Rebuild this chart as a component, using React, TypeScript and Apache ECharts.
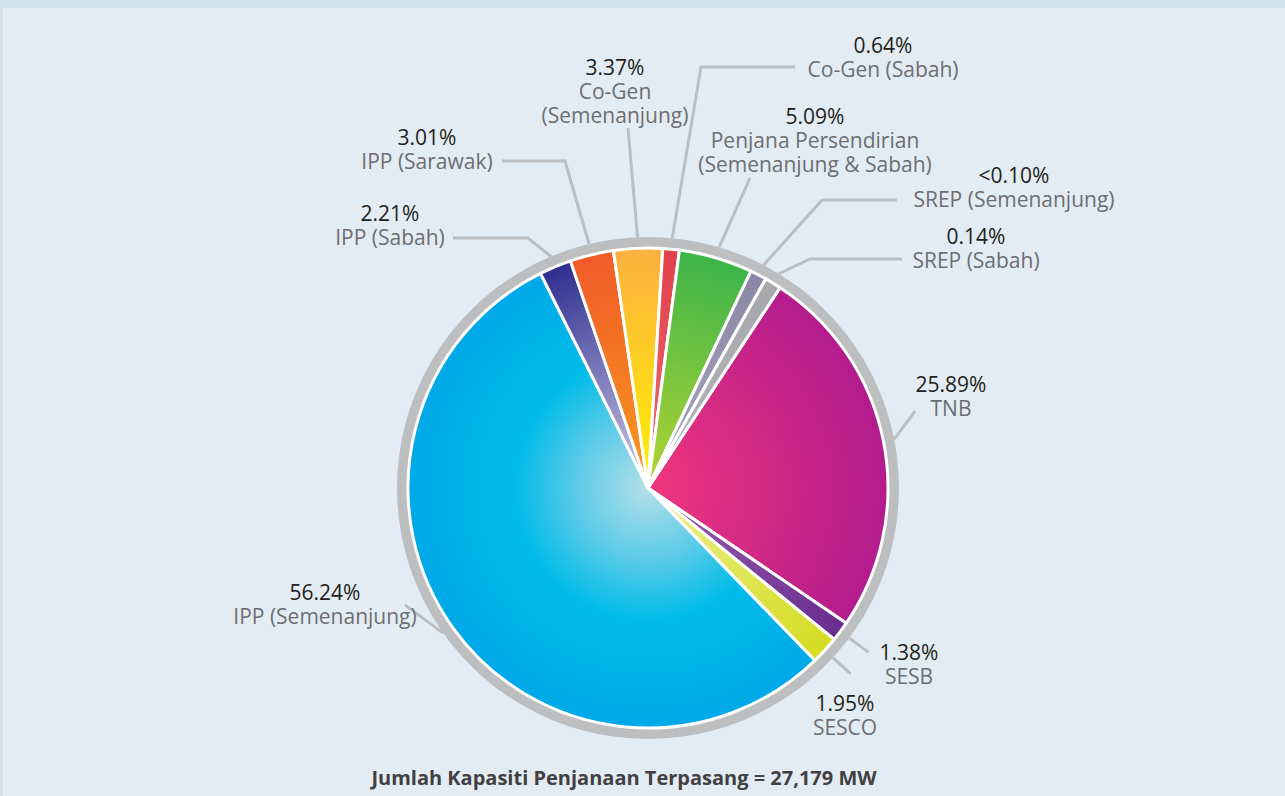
import React, { useEffect, useRef } from 'react';
import * as echarts from 'echarts';

// Installed generation capacity by producer (%)
const categories = [
  'TNB',
  'SESB',
  'SESCO',
  'IPP (Semenanjung)',
  'IPP (Sabah)',
  'IPP (Sarawak)',
  'Co-Gen (Semenanjung)',
  'Co-Gen (Sabah)',
  'Penjana Persendirian (Semenanjung & Sabah)',
  'SREP (Semenanjung)',
  'SREP (Sabah)',
];
const labelNames = [
  'TNB',
  'SESB',
  'SESCO',
  'IPP (Semenanjung)',
  'IPP (Sabah)',
  'IPP (Sarawak)',
  'Co-Gen\n(Semenanjung)',
  'Co-Gen (Sabah)',
  'Penjana Persendirian\n(Semenanjung & Sabah)',
  'SREP (Semenanjung)',
  'SREP (Sabah)',
];
const shares = [25.89, 1.38, 1.95, 56.24, 2.21, 3.01, 3.37, 0.64, 5.09, 0.08, 0.14];
const shareLabels = ['25.89%', '1.38%', '1.95%', '56.24%', '2.21%', '3.01%', '3.37%', '0.64%', '5.09%', '<0.10%', '0.14%'];
const totalLabel = 'Jumlah Kapasiti Penjanaan Terpasang = 27,179 MW';

// Colour stops for each slice, from the pie centre outwards
const sliceStops: [number, string][][] = [
  [[0, '#f0367c'], [1, '#b31c8e']],
  [[0, '#9a62ad'], [1, '#692d8f']],
  [[0, '#eef08c'], [1, '#d4dc22']],
  [[0, '#b4e0e8'], [0.3, '#5ccbe8'], [0.55, '#00bce8'], [1, '#00a8e7']],
  [[0, '#cfcbe8'], [1, '#2e2f8f']],
  [[0, '#f89a1c'], [1, '#f15a29']],
  [[0, '#fff200'], [1, '#fbb040']],
  [[0, '#ee6c72'], [1, '#e2404a']],
  [[0, '#b6d433'], [1, '#3cb54a']],
  [[0, '#a9a7bf'], [1, '#8a88a4']],
  [[0, '#b3b5b8'], [1, '#a6a8ab']],
];

// Layout
const CX = 648;
const CY = 488;
const PIE_R = 240;
const RING_R = 251;
const FONT = "'Open Sans', sans-serif";

type Spot = { x: number; y: number; line?: number[][]; stub?: number };
const labelSpots: Spot[] = [
  { x: 951, y: 372, line: [[915, 411]] },
  { x: 909, y: 640, stub: 24 },
  { x: 845, y: 691, stub: 24 },
  { x: 325, y: 580, line: [[405, 605]] },
  { x: 390, y: 201, line: [[528, 238], [453, 238]] },
  { x: 427, y: 125, line: [[565, 161], [502, 161]] },
  { x: 615, y: 55, line: [[628, 128]] },
  { x: 883, y: 33, line: [[701, 67], [795, 67]] },
  { x: 815, y: 104, line: [[750, 178]] },
  { x: 1014, y: 163, line: [[822, 200], [897, 200]] },
  { x: 976, y: 224, line: [[810, 259], [902, 259]] },
];

function sliceColor(i: number) {
  return {
    type: 'radial',
    x: CX,
    y: CY,
    r: PIE_R,
    global: true,
    colorStops: sliceStops[i].map(([offset, color]) => ({ offset, color })),
  };
}

export default function App() {
  const ref = useRef<HTMLDivElement>(null);

  useEffect(() => {
    document.body.style.margin = '0';
    if (!ref.current) return;
    const chart = echarts.init(ref.current, null, { renderer: 'svg' });

    chart.setOption({
      animation: false,
      backgroundColor: '#e4ecf3',
      graphic: [
        { type: 'rect', shape: { x: 0, y: 0, width: 1285, height: 8 }, style: { fill: '#d0e1eb' }, silent: true },
        { type: 'rect', shape: { x: 0, y: 0, width: 3, height: 796 }, style: { fill: '#d0e1eb' }, silent: true },
        {
          type: 'text',
          x: 624,
          y: 777,
          silent: true,
          style: {
            text: totalLabel,
            align: 'center',
            verticalAlign: 'middle',
            fill: '#414042',
            font: `bold 20px ${FONT}`,
          },
        },
      ],
      series: [
        {
          // grey rim around the pie
          type: 'pie',
          center: [CX, CY],
          radius: [228, RING_R],
          silent: true,
          label: { show: false },
          labelLine: { show: false },
          emphasis: { disabled: true },
          data: [{ value: 1, itemStyle: { color: '#bcbec0' } }],
        },
        {
          type: 'pie',
          center: [CX, CY],
          radius: [0, PIE_R],
          startAngle: 56.6,
          clockwise: true,
          minAngle: 4,
          avoidLabelOverlap: false,
          emphasis: { disabled: true },
          itemStyle: { borderColor: '#ffffff', borderWidth: 3 },
          label: {
            show: true,
            position: 'outside',
            fontFamily: FONT,
            formatter: (p: any) => `{p|${shareLabels[p.dataIndex]}}\n{n|${labelNames[p.dataIndex]}}`,
            rich: {
              p: { fontFamily: FONT, fontSize: 21, lineHeight: 24, color: '#231f20', align: 'center' },
              n: { fontFamily: FONT, fontSize: 21, lineHeight: 24, color: '#6d6e71', align: 'center' },
            },
          },
          labelLine: {
            show: true,
            length: 12,
            length2: 12,
            smooth: false,
            lineStyle: { color: '#bcbec0', width: 3 },
          },
          labelLayout: (p: any) => {
            const s = labelSpots[p.dataIndex];
            const out: any = { x: s.x, y: s.y, align: 'center', verticalAlign: 'top' };
            const pts = p.labelLinePoints;
            if (pts && pts.length) {
              const dx = pts[0][0] - CX;
              const dy = pts[0][1] - CY;
              const d = Math.hypot(dx, dy) || 1;
              const ux = dx / d;
              const uy = dy / d;
              const a = [CX + ux * RING_R, CY + uy * RING_R];
              const rest = s.stub ? [[a[0] + ux * s.stub, a[1] + uy * s.stub]] : s.line || [];
              out.labelLinePoints = [a, ...rest];
            }
            return out;
          },
          data: categories.map((name, i) => ({
            name,
            value: shares[i],
            itemStyle: { color: sliceColor(i) },
          })),
        },
      ],
    });

    return () => chart.dispose();
  }, []);

  return <div ref={ref} style={{ width: 1285, height: 796 }} />;
}
